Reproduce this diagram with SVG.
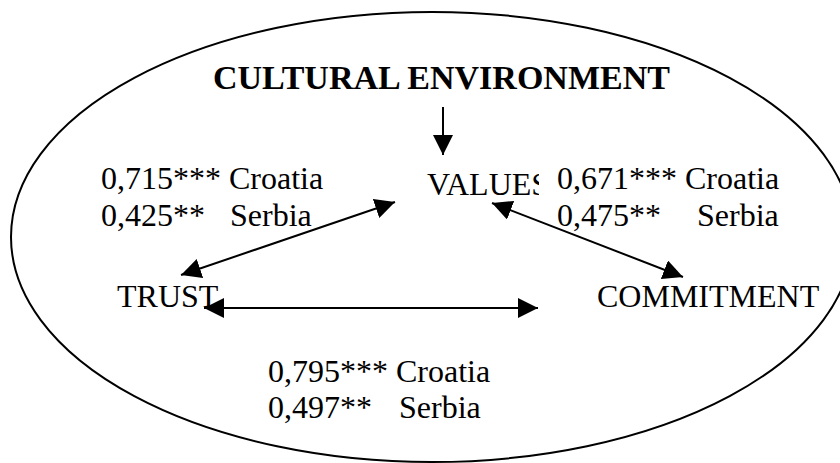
<svg xmlns="http://www.w3.org/2000/svg" width="840" height="463" viewBox="0 0 840 463">
<style>
text{font-family:"Liberation Serif","Times New Roman",serif;font-size:32px;fill:#000}
.title{font-weight:bold;font-size:34px}
.conn line{stroke:#000;stroke-width:2}
</style>
<defs>
<marker id="ah" markerUnits="userSpaceOnUse" viewBox="0 0 20 20" markerWidth="20" markerHeight="20" refX="20" refY="10" orient="auto-start-reverse">
<path d="M0,0 L20,10 L0,20 z" fill="#000"/>
</marker>
<clipPath id="cv"><rect x="400" y="150" width="139" height="60"/></clipPath>
</defs>
<rect width="840" height="463" fill="#fff"/>
<g id="environment">
<ellipse cx="432" cy="237" rx="421" ry="225" fill="none" stroke="#000" stroke-width="2"/>
<text class="title" x="213" y="89">CULTURAL ENVIRONMENT</text>
</g>
<g id="values"><text x="427" y="195" clip-path="url(#cv)">VALUES</text></g>
<g id="trust"><text x="117" y="307">TRUST</text></g>
<g id="commitment"><text x="597" y="307">COMMITMENT</text></g>
<g id="label-tv"><text x="101" y="189">0,715*** Croatia</text><text x="101" y="226">0,425**<tspan x="230">Serbia</tspan></text></g>
<g id="label-vc"><text x="557" y="189">0,671*** Croatia</text><text x="557" y="226">0,475**<tspan x="697">Serbia</tspan></text></g>
<g id="label-tc"><text x="268" y="382">0,795*** Croatia</text><text x="268" y="418">0,497**<tspan x="399">Serbia</tspan></text></g>
<g id="connectors" class="conn">
<line x1="443" y1="107" x2="443" y2="155" marker-end="url(#ah)"/>
<line x1="181" y1="275" x2="395" y2="202" marker-start="url(#ah)" marker-end="url(#ah)"/>
<line x1="492" y1="203" x2="683" y2="277" marker-start="url(#ah)" marker-end="url(#ah)"/>
<line x1="204" y1="308" x2="538" y2="308" marker-start="url(#ah)" marker-end="url(#ah)"/>
</g>
</svg>
